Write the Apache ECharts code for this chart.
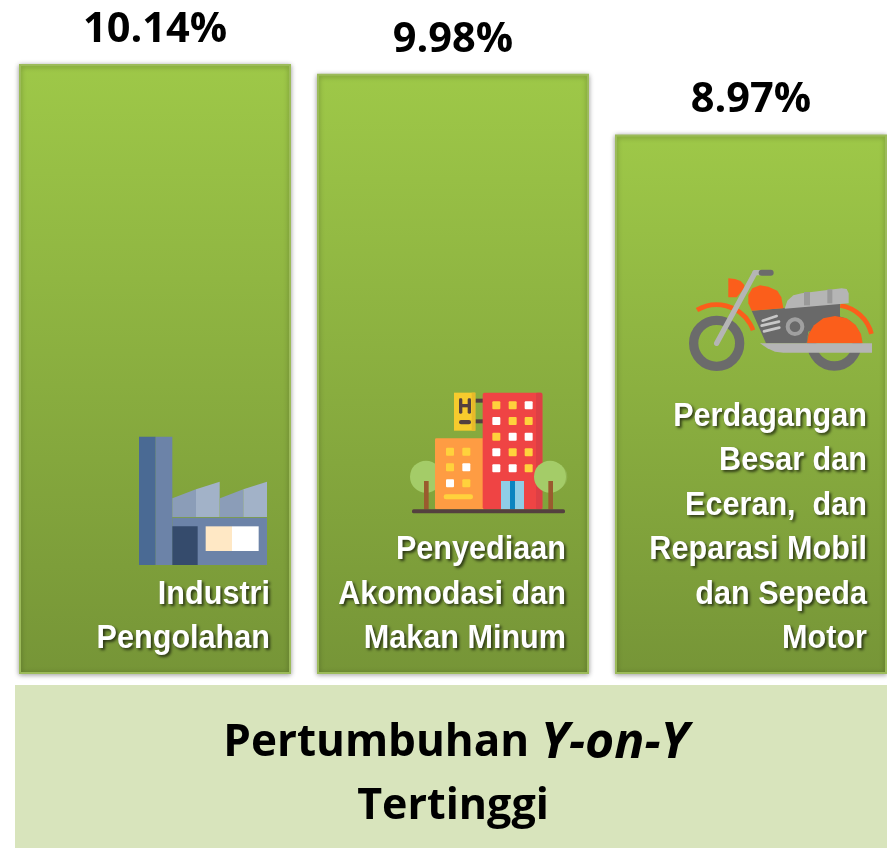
<!DOCTYPE html>
<html><head><meta charset="utf-8">
<style>html,body{margin:0;padding:0;background:#fff}#c{width:887px;height:848px}</style>
<script src="https://cdn.jsdelivr.net/npm/echarts@6/dist/echarts.min.js"></script>
</head><body><div id="c"></div>
<script>
const categories = ['Industri\nPengolahan', 'Penyediaan\nAkomodasi dan\nMakan Minum', 'Perdagangan\nBesar dan\nEceran,  dan\nReparasi Mobil\ndan Sepeda\nMotor'];
const growth = [10.14, 9.98, 8.97];
const heading = ['Pertumbuhan ', 'Y-on-Y', 'Tertinggi'];

const poly = (pts, fill) => ({type:'polygon', shape:{points:pts}, style:{fill}});
const rect = (x,y,w,h,fill,r) => ({type:'rect', shape:{x,y,width:w,height:h,r:r||0}, style:{fill}});
const circ = (cx,cy,r,fill) => ({type:'circle', shape:{cx,cy,r}, style:{fill}});
const line = (x1,y1,x2,y2,stroke,w) => ({type:'line', shape:{x1,y1,x2,y2}, style:{stroke,lineWidth:w,lineCap:'round'}});
const arcS = (cx,cy,r,a,b,stroke,w) => ({type:'arc', shape:{cx,cy,r,startAngle:a,endAngle:b,clockwise:true}, style:{stroke,lineWidth:w,fill:'none'}});
const icon = (x,y,children) => ({type:'group', x, y, scaleX:1/3, scaleY:1/3, children});

const factory = icon(-35,-254,[
  rect(57,50,50,385,'#4A6A94'),
  rect(107,50,50,385,'#6C83A8'),
  rect(157,293,284,142,'#6C83A8'),
  poly([[157,235],[228,208],[228,291],[157,291]],'#8B9DB8'),
  poly([[228,208],[299,185],[299,291],[228,291]],'#A2B2C8'),
  poly([[300,235],[370,208],[370,291],[300,291]],'#8B9DB8'),
  poly([[370,208],[441,185],[441,291],[370,291]],'#A2B2C8'),
  rect(157,319,76,116,'#354B6C'),
  rect(257,319,79,74,'#FFE8C5'),
  rect(336,319,80,74,'#FFFFFF')
]);

const Y='#FFD23C', W='#FFFFFF';
const win = (cols,rows,map) => rows.flatMap((ry,i)=>cols.map((cx,j)=>rect(cx-12,ry-12,24,24,map[i][j],3)));
const hotel = icon(-53,-294,[
  circ(90,290,40,'#8FB350'),
  circ(78,290,48,'#A4CC68'), rect(72,303,14,85,'#9A5B2E'),
  rect(226,56,24,12,'#54403F'), rect(226,118,24,12,'#54403F'),
  rect(162,38,64,114,'#F7CB2D'), rect(215,38,11,114,'#E8B92A'),
  rect(177,55,10,46,'#54403F',4), rect(203,55,10,46,'#54403F',4), rect(177,72,36,10,'#54403F'),
  rect(177,120,36,13,'#54403F',6),
  rect(105,175,150,213,'#FE9C43',4),
  rect(248,38,179,350,'#EF4444',6), rect(408,38,19,350,'#DD3F45',4),
  ...win([289,338,386],[76,123,170,217,265],[[Y,Y,W],[W,Y,Y],[Y,W,W],[W,Y,Y],[W,W,Y]]),
  ...win([150,199],[215,262,310],[[Y,Y],[Y,W],[W,Y]]),
  rect(131,343,88,15,Y,7),
  rect(303,303,69,85,'#8FCDE6'), rect(330,303,15,85,'#0A84C0'),
  circ(462,290,40,'#8FB350'), circ(450,290,48,'#A4CC68'), rect(445,303,14,85,'#9A5B2E'),
  rect(36,388,459,12,'#54403F',5)
]);

const OR='#FB5E1B', GD='#6B6B6B', GL='#B5B5B5';
const moto = icon(-71,-414,[
  arcS(463,250,68,0,Math.PI*2,GD,28),
  arcS(110,250,69,0,Math.PI*2,GD,28),
  arcS(110,250,116,Math.PI*1.33,Math.PI*1.89,OR,14),
  arcS(463,250,115,Math.PI*1.55,Math.PI*1.92,OR,14),
  poly([[145,55],[165,57],[182,63],[193,75],[193,85],[170,112],[145,112]],OR),
  poly([[215,152],[480,130],[480,170],[385,215],[380,250],[258,250]],'#696969'),
  poly([[215,152],[205,130],[205,105],[217,85],[240,76],[265,80],[292,92],[304,112],[310,145]],OR),
  poly([[314,146],[322,122],[340,106],[365,100],[485,85],[500,87],[506,100],[506,130]],GL),
  rect(372,96,18,40,'#999999'), rect(442,88,15,42,'#999999'),
  poly([[381,250],[386,222],[402,196],[430,175],[465,168],[500,175],[527,195],[543,222],[548,250]],OR),
  line(248,182,290,168,'#C8C8C8',8), line(245,197,297,185,'#C8C8C8',8), line(252,214,298,203,'#C8C8C8',8),
  arcS(345,200,22,0,Math.PI*2,'#A0A0A0',12),
  poly([[240,250],[576,250],[576,278],[310,278],[285,275],[262,265]],GL),
  line(110,250,225,38,GL,16),
  line(225,38,240,38,GL,16),
  line(245,38,272,38,GD,18)
]);
const icons = [factory, hotel, moto];
const textRight = [115, 113, 116];

const chart = echarts.init(document.getElementById('c'), null, {renderer:'canvas'});
chart.setOption({
  animation:false,
  backgroundColor:'#fff',
  grid:{left:6, width:894, top:12.35, height:661.65, outerBoundsMode:'none'},
  xAxis:{type:'category', data:categories, show:false},
  yAxis:{type:'value', min:0, max:11, show:false},
  title:[
    {left:451, top:707, textAlign:'center', z:30,
     text:`{b|${heading[0]}}{i|${heading[1]}}`,
     textStyle:{rich:{
       b:{fontFamily:'Open Sans', fontWeight:700, fontSize:44, lineHeight:63, color:'#000'},
       i:{fontFamily:'Open Sans', fontWeight:700, fontStyle:'italic', fontSize:50, lineHeight:63, color:'#000'}
     }}},
    {left:448, top:770, textAlign:'center', z:30, text:heading[2],
     textStyle:{fontFamily:'Open Sans', fontWeight:700, fontSize:43, lineHeight:63, color:'#000'}}
  ],
  graphic:{elements:[
    {type:'rect', shape:{x:15,y:685,width:872,height:163}, style:{fill:'#D8E4BC'}}
  ]},
  series:[
    {type:'bar', data:growth, barWidth:272,
     itemStyle:{
       color:new echarts.graphic.LinearGradient(0,0,0,1,[{offset:0,color:'#9EC848'},{offset:1,color:'#769537'}]),
       borderColor:'#9CBB5A', borderWidth:2,
       shadowBlur:5, shadowColor:'rgba(0,0,0,0.35)', shadowOffsetY:1
     },
     label:{show:true, position:'top', distance:13, formatter:p=>p.value.toFixed(2)+'%',
       fontFamily:'Open Sans', fontWeight:700, fontSize:41.5, color:'#000'}
    },
    {type:'custom', z:25, data:categories.map((c,i)=>[i,growth[i]]), clip:false,
     renderItem:(params,api)=>{
       const i = api.value(0), p = api.coord([i,0]);
       return {type:'group', x:p[0], y:p[1], children:[
         icons[i],
         {type:'group', x:textRight[i], y:-13, scaleX:0.9, children:[
           {type:'text', style:{x:0,y:0,text:categories[i],align:'right',verticalAlign:'bottom',
             fontFamily:'Liberation Sans',fontWeight:700,fontSize:34,lineHeight:44.5,fill:'#fff',
             textShadowColor:'rgba(0,0,0,0.65)',textShadowBlur:3,textShadowOffsetX:2,textShadowOffsetY:2}}
         ]}
       ]};
     }
    }
  ]
});
</script></body></html>
